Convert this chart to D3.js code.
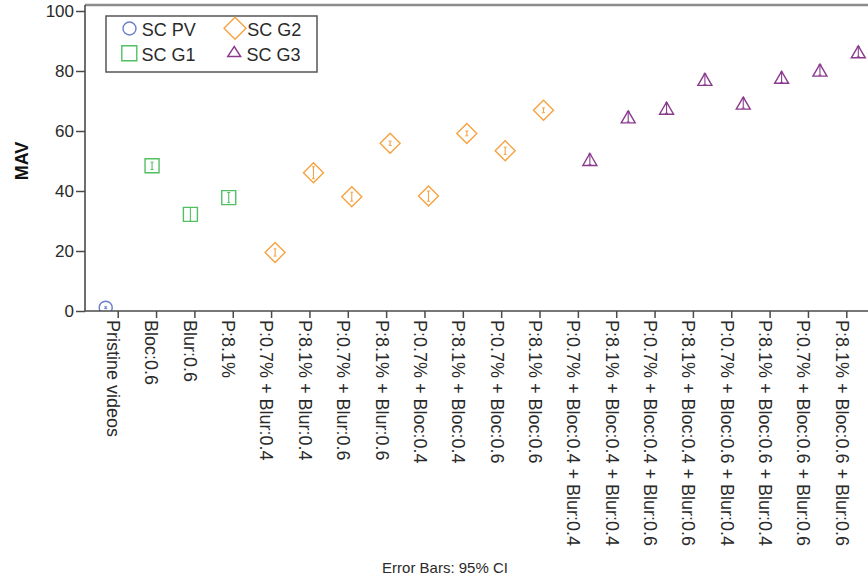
<!DOCTYPE html>
<html>
<head>
<meta charset="utf-8">
<script src="https://cdn.jsdelivr.net/npm/d3@7"></script>
<style>
  html, body { margin: 0; padding: 0; background: #fff; }
  svg { display: block; font-family: "Liberation Sans", Arial, sans-serif; }
</style>
</head>
<body>
<svg id="chart" width="868" height="580"></svg>
<script>
// Attack conditions along the x axis
const categories = [
  "Pristine videos", "Bloc:0.6", "Blur:0.6", "P:8.1%",
  "P:0.7% + Blur:0.4", "P:8.1% + Blur:0.4", "P:0.7% + Blur:0.6", "P:8.1% + Blur:0.6",
  "P:0.7% + Bloc:0.4", "P:8.1% + Bloc:0.4", "P:0.7% + Bloc:0.6", "P:8.1% + Bloc:0.6",
  "P:0.7% + Bloc:0.4 + Blur:0.4", "P:8.1% + Bloc:0.4 + Blur:0.4",
  "P:0.7% + Bloc:0.4 + Blur:0.6", "P:8.1% + Bloc:0.4 + Blur:0.6",
  "P:0.7% + Bloc:0.6 + Blur:0.4", "P:8.1% + Bloc:0.6 + Blur:0.4",
  "P:0.7% + Bloc:0.6 + Blur:0.6", "P:8.1% + Bloc:0.6 + Blur:0.6"
];
// Group each condition belongs to
const groupOf = [
  "SC PV", "SC G1", "SC G1", "SC G1",
  "SC G2", "SC G2", "SC G2", "SC G2", "SC G2", "SC G2", "SC G2", "SC G2",
  "SC G3", "SC G3", "SC G3", "SC G3", "SC G3", "SC G3", "SC G3", "SC G3"
];
// Mean MAV per condition
const mav = [1.1, 48.4, 32.2, 37.8, 19.5, 46.1, 38.1, 55.9, 38.3, 59.2, 53.4, 66.9,
             50.5, 64.7, 67.6, 77.2, 69.3, 77.9, 80.3, 86.4];
// Half-width of the 95% confidence interval
const ci = [0.3, 1.2, 2.3, 1.7, 1.2, 2.0, 1.5, 0.7, 1.7, 0.8, 1.2, 0.8,
            1.8, 1.7, 1.7, 1.8, 1.7, 1.7, 1.7, 1.7];
const groups = ["SC PV", "SC G1", "SC G2", "SC G3"];
const yTicks = [0, 20, 40, 60, 80, 100];

const colors = { "SC PV": "#6b7ec9", "SC G1": "#52bf63", "SC G2": "#f6a240", "SC G3": "#8a3a8e" };
const textColor = "#2a2a2a";

const svg = d3.select("#chart");
const left = 85, bottom = 311;

const x = d3.scalePoint().domain(categories).range([85, 879]).padding(0.853);
const dodge = d3.scalePoint().domain(groups).range([-12, 12]);
const y = d3.scaleLinear().domain([0, 102]).range([bottom, 5]);

// Marker shapes
function shapePath(group, big) {
  const p = d3.path();
  if (group === "SC PV") {
    const r = 6.5; p.arc(0, 0, r, 0, 2 * Math.PI);
  } else if (group === "SC G1") {
    const h = big ? 7.5 : 7; p.rect(-h, -h, 2 * h, 2 * h);
  } else if (group === "SC G2") {
    const h = big ? 11 : 10;
    p.moveTo(0, -h); p.lineTo(h, 0); p.lineTo(0, h); p.lineTo(-h, 0); p.closePath();
  } else {
    const w = big ? 6.5 : 7, h = big ? 5 : 6;
    p.moveTo(0, -h); p.lineTo(w, h); p.lineTo(-w, h); p.closePath();
  }
  return p.toString();
}

// Plot frame
svg.append("line").attr("x1", left).attr("x2", 868).attr("y1", 5).attr("y2", 5)
  .attr("stroke", "#8c8c8c").attr("stroke-width", 2.4);

svg.append("defs").append("clipPath").attr("id", "plotclip")
  .append("rect").attr("x", left).attr("y", 5).attr("width", 868 - left).attr("height", bottom - 5);

const plot = svg.append("g").attr("clip-path", "url(#plotclip)");

const pts = categories.map((c, i) => ({ c, g: groupOf[i], v: mav[i], e: ci[i] }));

const mark = plot.selectAll("g.mark").data(pts).join("g")
  .attr("class", "mark")
  .attr("transform", d => `translate(${x(d.c) + dodge(d.g)},${y(d.v)})`);

mark.append("path")
  .attr("d", d => shapePath(d.g, false))
  .attr("fill", "none")
  .attr("stroke", d => colors[d.g])
  .attr("stroke-width", 1.4);

// 95% CI error bars
mark.append("line")
  .attr("x1", 0).attr("x2", 0)
  .attr("y1", d => y(d.v + d.e) - y(d.v))
  .attr("y2", d => y(d.v - d.e) - y(d.v))
  .attr("stroke", d => colors[d.g]).attr("stroke-width", 1.1);
mark.append("path")
  .attr("d", d => {
    const t = y(d.v + d.e) - y(d.v), b = y(d.v - d.e) - y(d.v);
    return `M-1.5,${t}H1.5M-1.5,${b}H1.5`;
  })
  .attr("stroke", d => colors[d.g]).attr("stroke-width", 1);

// Axes
const yAxis = svg.append("g").attr("transform", `translate(${left},0)`)
  .call(d3.axisLeft(y).tickValues(yTicks).tickSize(9).tickPadding(2));
yAxis.select(".domain").attr("d", `M-0,5V${bottom}`);
const xAxis = svg.append("g").attr("transform", `translate(0,${bottom})`)
  .call(d3.axisBottom(x).tickSize(7).tickSizeOuter(0).tickFormat(() => ""));
xAxis.select(".domain").attr("d", `M${left},0H868`);

[yAxis, xAxis].forEach(a => {
  a.select(".domain").attr("stroke", "#4a4a4a").attr("stroke-width", 1.6);
  a.selectAll(".tick line").attr("stroke", "#4a4a4a").attr("stroke-width", 1.5);
});
yAxis.selectAll(".tick text").attr("font-size", 17).attr("fill", textColor)
  .attr("font-family", "Liberation Sans, Arial, sans-serif");

// Category labels, rotated to read downwards
svg.append("g").selectAll("text").data(categories).join("text")
  .attr("transform", d => `translate(${x(d)},320) rotate(90)`)
  .attr("dy", 10.6)
  .attr("font-size", 18)
  .attr("fill", textColor)
  .text(d => d);

// Axis title
svg.append("text")
  .attr("transform", "translate(22,161) rotate(-90)")
  .attr("text-anchor", "middle")
  .attr("dy", "0.36em")
  .attr("font-size", 18).attr("font-weight", "bold").attr("fill", "#111")
  .text("MAV");

svg.append("text")
  .attr("x", 445).attr("y", 573)
  .attr("text-anchor", "middle")
  .attr("font-size", 15).attr("fill", textColor)
  .text("Error Bars: 95% CI");

// Legend
const legend = svg.append("g");
legend.append("rect").attr("x", 106).attr("y", 16).attr("width", 211).attr("height", 56)
  .attr("fill", "#fff").attr("stroke", "#555").attr("stroke-width", 1.5);
const legendPos = [
  { g: "SC PV", sx: 129.5, sy: 28.5 },
  { g: "SC G2", sx: 235, sy: 28.3 },
  { g: "SC G1", sx: 129.3, sy: 53.3 },
  { g: "SC G3", sx: 234.2, sy: 51.5 }
];
const li = legend.selectAll("g.item").data(legendPos).join("g").attr("class", "item");
li.append("path")
  .attr("transform", d => `translate(${d.sx},${d.sy})`)
  .attr("d", d => shapePath(d.g, true))
  .attr("fill", "none").attr("stroke", d => colors[d.g]).attr("stroke-width", 1.4);
li.append("text")
  .attr("x", d => d.sx + 12.3)
  .attr("y", d => (d.sy < 40 ? 35.5 : 61.3))
  .attr("font-size", 18).attr("fill", textColor)
  .text(d => d.g);
</script>
</body>
</html>
